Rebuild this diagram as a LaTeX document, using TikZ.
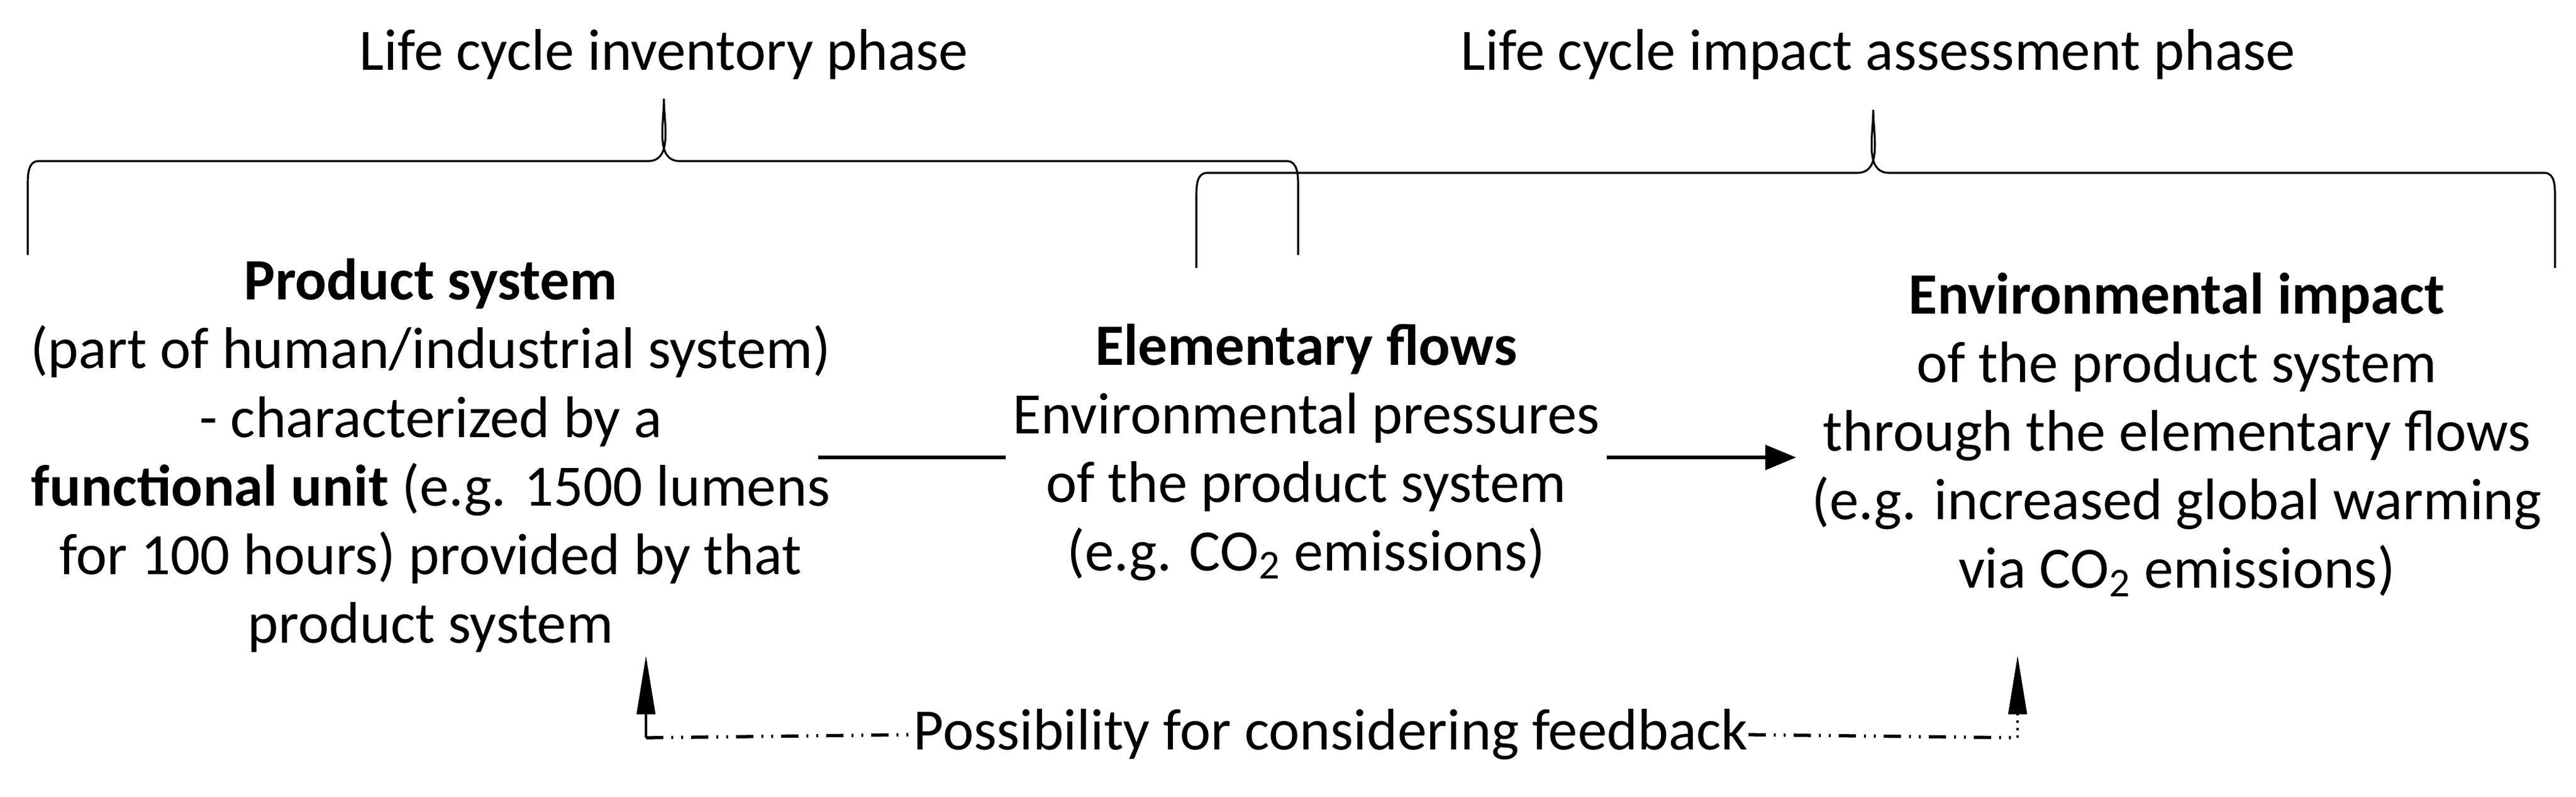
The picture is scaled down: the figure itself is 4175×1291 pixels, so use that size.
\documentclass[tikz,border=0pt]{standalone}
\usepackage{fontspec}
\setmainfont{Carlito}
\usetikzlibrary{arrows.meta}
\begin{document}
\begin{tikzpicture}[x=0.01cm,y=-0.01cm,
  txt/.style={align=center,font=\fontsize{27}{31.6}\selectfont,inner sep=0pt},
  brace/.style={line width=0.9pt},
  conn/.style={line width=1.5pt},
  tip/.style={-{Triangle[length=0.95cm,width=0.3cm]}},
  ddot/.style={line width=1.5pt,dash pattern=on 0.28cm off 0.13cm on 0.03cm off 0.13cm on 0.03cm off 0.13cm}]
\useasboundingbox (0,0) rectangle (4175,1291);
\node[txt] (t1) at (1076,88) {Life cycle inventory phase};
\node[txt] (t2) at (3044,88) {Life cycle impact assessment phase};
\draw[brace] (45,413) -- (45,300) to[out=90,in=180] (62,261) -- (1050,261) to[out=0,in=-90] (1076,160) to[out=-90,in=180] (1102,261) -- (2086,261) to[out=0,in=90] (2104,300) -- (2104,413);
\draw[brace] (1939,434) -- (1939,320) to[out=90,in=180] (1956,280) -- (3010,280) to[out=0,in=-90] (3036,178) to[out=-90,in=180] (3062,280) -- (4124,280) to[out=0,in=90] (4141,320) -- (4141,434);
\node[txt] (ps) at (698,738) {\textbf{Product system}\\(part of human/industrial system)\\- characterized by a\\\textbf{functional unit} (e.g. 1500 lumens\\for 100 hours) provided by that\\product system};
\node[txt] (ef) at (2117,733) {\textbf{Elementary flows}\\Environmental pressures\\of the product system\\(e.g. CO\textsubscript{2} emissions)};
\node[txt] (ei) at (3528,704) {\textbf{Environmental impact}\\of the product system\\through the elementary flows\\(e.g. increased global warming\\via CO\textsubscript{2} emissions)};
\coordinate (l1) at (1326,741); \coordinate (l2) at (1630,741);
\coordinate (a1) at (2604,741); \coordinate (a2) at (2911,741);
\draw[conn] (l1) -- (l2);
\draw[conn,-{Triangle[length=0.5cm,width=0.4cm]}] (a1) -- (a2);
\node[txt] (fb) at (2157,1190) {Possibility for considering feedback};
\coordinate (fl) at (1047,1195); \coordinate (flt) at (1047,1062);
\coordinate (fr) at (3270,1195); \coordinate (frt) at (3270,1062);
\draw[line width=0.9pt,tip] (fl) -- (flt);
\draw[line width=0.9pt,dash pattern=on 0.04cm off 0.08cm,tip] (fr) -- (frt);
\draw[ddot] (fl) -- (fb.west);
\draw[ddot] (fb.east) -- (fr);
\end{tikzpicture}
\end{document}
